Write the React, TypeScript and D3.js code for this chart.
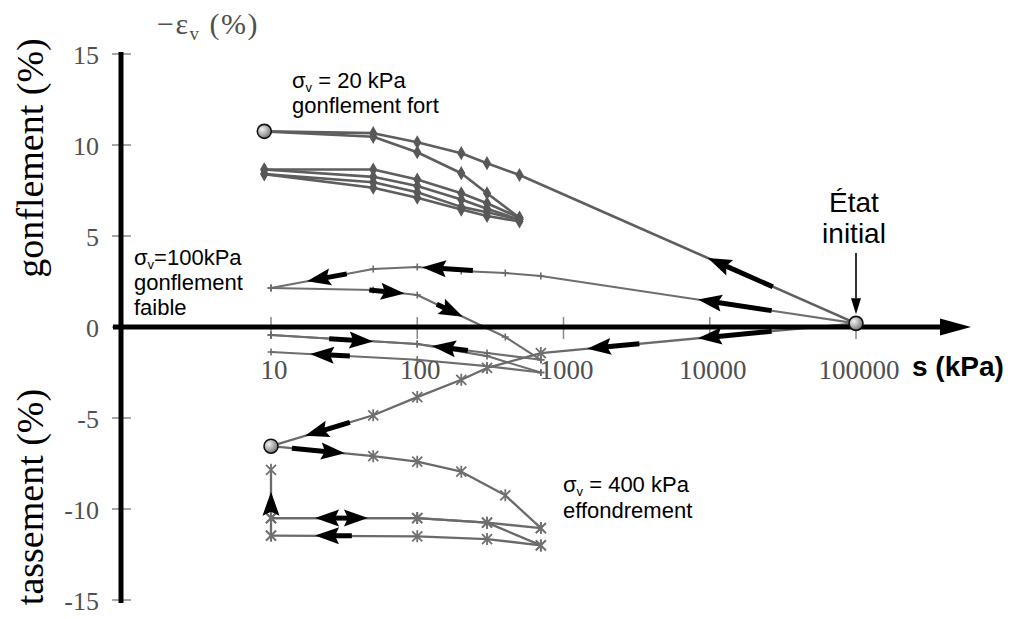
import React, { useRef, useEffect } from "react";
import * as d3 from "d3";

type Pt = [number, number]; // [suction s (kPa), -eps_v (%)]

const W = 1018;
const H = 619;

// tick values
const xTicks = [10, 100, 1000, 10000, 100000];
const xTickLabels = ["10", "100", "1000", "10000", "100000"];
const yTicks = [15, 10, 5, 0, -5, -10, -15];

// initial state
const initialState: Pt = [100000, 0.2];

// sigma_v = 20 kPa : gonflement fort
const s20Wet1: Pt[] = [[100000, 0.2], [500, 8.35], [300, 9.0], [200, 9.55], [100, 10.15], [50, 10.65], [9, 10.75]];
const s20Dry1: Pt[] = [[9, 10.75], [50, 10.45], [100, 9.6], [200, 8.45], [300, 7.35], [500, 6.0]];
const s20Wet2: Pt[] = [[500, 6.0], [300, 6.8], [200, 7.35], [100, 8.1], [50, 8.65], [9, 8.65]];
const s20Dry2: Pt[] = [[9, 8.65], [50, 8.25], [100, 7.75], [200, 7.0], [300, 6.5], [500, 5.9]];
const s20Wet3: Pt[] = [[500, 5.9], [300, 6.3], [200, 6.6], [100, 7.4], [50, 7.95], [9, 8.4]];
const s20Dry3: Pt[] = [[9, 8.4], [50, 7.65], [100, 7.1], [200, 6.45], [300, 6.1], [500, 5.8]];

// sigma_v = 100 kPa : gonflement faible
const s100Wet1: Pt[] = [[100000, 0.2], [700, 2.8], [400, 2.97], [200, 3.08], [100, 3.3], [50, 3.19], [10, 2.14]];
const s100Dry1: Pt[] = [[10, 2.14], [50, 2.03], [100, 1.76], [400, -0.55], [700, -1.8]];
const s100Wet2: Pt[] = [[700, -1.8], [300, -1.43], [100, -0.93], [10, -0.44]];
const s100Dry2: Pt[] = [[10, -0.44], [100, -0.93], [300, -1.6], [700, -2.5]];
const s100Wet3: Pt[] = [[700, -2.5], [300, -2.15], [100, -1.8], [10, -1.37]];

// sigma_v = 400 kPa : effondrement
const s400Wet1: Pt[] = [[100000, 0.2], [700, -1.43], [300, -2.25], [200, -2.9], [100, -3.85], [50, -4.85], [10, -6.55]];
const s400Dry1: Pt[] = [[10, -6.55], [50, -7.1], [100, -7.4], [200, -7.95], [400, -9.25], [700, -11.05]];
const s400Wet2: Pt[] = [[700, -11.05], [300, -10.75], [100, -10.5], [10, -10.5]];
const s400Dry2: Pt[] = [[10, -10.5], [100, -10.5], [300, -10.75], [700, -12.0]];
const s400Wet3: Pt[] = [[700, -12.0], [300, -11.65], [100, -11.5], [10, -11.46]];
const s400Up: Pt[] = [[10, -11.46], [10, -10.5], [10, -7.85]];

// highlighted states (circles)
const circledStates: Pt[] = [[9, 10.75], [10, -6.55], initialState];

// direction arrows along the paths, [from, to]
const pathArrows: [Pt, Pt][] = [
  [[27000, 2.21], [9700, 3.79]],
  [[26500, 0.9], [8300, 1.51]],
  [[26500, -0.24], [8300, -0.62]],
  [[3300, -0.92], [1450, -1.19]],
  [[240, 3.11], [108, 3.28]],
  [[33, 2.92], [17.6, 2.51]],
  [[47, 2.03], [82, 1.84]],
  [[136, 1.25], [205, 0.56]],
  [[25, -0.64], [50, -0.79]],
  [[222, -1.29], [126, -1.04]],
  [[34.6, -1.6], [18.5, -1.48]],
  [[34.6, -5.24], [17.1, -5.98]],
  [[13.9, -6.66], [32, -6.94]],
  [[31, -10.5], [20, -10.5]],
  [[31, -10.5], [46, -10.5]],
  [[35.7, -11.47], [20, -11.46]],
  [[10, -10.25], [10, -9.05]],
];

const groups = [
  { paths: [s20Wet1, s20Dry1, s20Wet2, s20Dry2, s20Wet3, s20Dry3], marker: "diamond", color: "#5e5e5e", width: 2.6 },
  { paths: [s100Wet1, s100Dry1, s100Wet2, s100Dry2, s100Wet3], marker: "plus", color: "#6e6e6e", width: 2.1 },
  { paths: [s400Wet1, s400Dry1, s400Wet2, s400Dry2, s400Wet3, s400Up], marker: "star", color: "#6a6a6a", width: 2.3 },
];

const App: React.FC = () => {
  const ref = useRef<SVGSVGElement>(null);

  useEffect(() => {
    if (!ref.current) return;
    const svg = d3.select(ref.current);
    svg.selectAll("*").remove();

    const x = d3.scaleLog().domain([10, 100000]).range([271, 856]);
    const y = d3.scaleLinear().domain([-15, 15]).range([600, 54]);
    const y0 = y(0);
    const axisX = 121;

    const defs = svg.append("defs");
    const grad = defs
      .append("radialGradient")
      .attr("id", "ball")
      .attr("cx", "35%")
      .attr("cy", "35%")
      .attr("r", "75%");
    grad.append("stop").attr("offset", "0%").attr("stop-color", "#f2f2f2");
    grad.append("stop").attr("offset", "100%").attr("stop-color", "#6a6a6a");

    svg.append("rect").attr("width", W).attr("height", H).attr("fill", "#fff");

    // tick marks
    yTicks.forEach((v) => {
      svg
        .append("line")
        .attr("x1", axisX - 9)
        .attr("x2", axisX + 10)
        .attr("y1", y(v))
        .attr("y2", y(v))
        .attr("stroke", "#8a8a8a")
        .attr("stroke-width", 1.5);
    });
    xTicks.forEach((v) => {
      svg
        .append("line")
        .attr("x1", x(v))
        .attr("x2", x(v))
        .attr("y1", y0 - 10)
        .attr("y2", y0 + 12)
        .attr("stroke", "#8a8a8a")
        .attr("stroke-width", 1.5);
    });

    // curves
    const line = d3
      .line<Pt>()
      .x((d) => x(d[0]))
      .y((d) => y(d[1]));

    groups.forEach((g) => {
      g.paths.forEach((p) => {
        svg
          .append("path")
          .attr("d", line(p))
          .attr("fill", "none")
          .attr("stroke", g.color)
          .attr("stroke-width", g.width)
          .attr("stroke-linejoin", "round");
      });
    });

    // markers
    const diamond = d3.symbol().type(d3.symbolDiamond).size(58);
    groups.forEach((g) => {
      g.paths.forEach((p) => {
        p.filter((d) => d[0] < 100000).forEach((d) => {
          const cx = x(d[0]);
          const cy = y(d[1]);
          if (g.marker === "diamond") {
            svg
              .append("path")
              .attr("d", diamond())
              .attr("transform", `translate(${cx},${cy})`)
              .attr("fill", "#585858");
          } else if (g.marker === "plus") {
            const r = 3.5;
            svg
              .append("path")
              .attr("d", `M${cx - r},${cy}H${cx + r}M${cx},${cy - r}V${cy + r}`)
              .attr("stroke", "#6a6a6a")
              .attr("stroke-width", 1.6);
          } else {
            const r = 5;
            svg
              .append("path")
              .attr(
                "d",
                `M${cx - r},${cy - r}L${cx + r},${cy + r}M${cx - r},${cy + r}L${cx + r},${cy - r}M${cx},${cy - r - 1}V${cy + r + 1}`
              )
              .attr("stroke", "#707070")
              .attr("stroke-width", 1.8);
          }
        });
      });
    });

    // axes
    svg
      .append("line")
      .attr("x1", axisX - 8)
      .attr("x2", 944)
      .attr("y1", y0)
      .attr("y2", y0)
      .attr("stroke", "#000")
      .attr("stroke-width", 5);
    svg
      .append("path")
      .attr("d", `M940,${y0 - 8.5}L971,${y0}L940,${y0 + 8.5}Z`)
      .attr("fill", "#000");
    svg
      .append("line")
      .attr("x1", axisX)
      .attr("x2", axisX)
      .attr("y1", y(15) - 2)
      .attr("y2", y(-15) + 3)
      .attr("stroke", "#000")
      .attr("stroke-width", 5);

    // direction arrows
    const drawArrow = (
      a: [number, number],
      b: [number, number],
      shaft: number,
      headLen: number,
      headHalf: number,
      notch: number
    ) => {
      const dx = b[0] - a[0];
      const dy = b[1] - a[1];
      const len = Math.hypot(dx, dy);
      const ux = dx / len;
      const uy = dy / len;
      const nx = -uy;
      const ny = ux;
      const bx = b[0] - ux * headLen;
      const by = b[1] - uy * headLen;
      if (len > headLen) {
        svg
          .append("line")
          .attr("x1", a[0])
          .attr("y1", a[1])
          .attr("x2", bx + ux * notch)
          .attr("y2", by + uy * notch)
          .attr("stroke", "#000")
          .attr("stroke-width", shaft);
      }
      svg
        .append("path")
        .attr(
          "d",
          `M${b[0]},${b[1]}L${bx + nx * headHalf},${by + ny * headHalf}L${bx + ux * notch},${by + uy * notch}L${bx - nx * headHalf},${by - ny * headHalf}Z`
        )
        .attr("fill", "#000");
    };

    pathArrows.forEach(([p0, p1]) => {
      drawArrow([x(p0[0]), y(p0[1])], [x(p1[0]), y(p1[1])], 5, 24, 8.5, 4);
    });

    // circled states
    circledStates.forEach((d) => {
      svg
        .append("circle")
        .attr("cx", x(d[0]))
        .attr("cy", y(d[1]))
        .attr("r", 7)
        .attr("fill", "url(#ball)")
        .attr("stroke", "#111")
        .attr("stroke-width", 1.6);
    });

    // initial state pointer
    drawArrow([x(initialState[0]), 253], [x(initialState[0]), y(initialState[1]) - 9], 1.6, 16, 5, 0);

    // tick labels
    const serif = "'Liberation Serif', 'Times New Roman', serif";
    const sans = "'Liberation Sans', Arial, sans-serif";
    yTicks.forEach((v) => {
      svg
        .append("text")
        .attr("x", 99)
        .attr("y", y(v) + 1)
        .attr("text-anchor", "end")
        .attr("dominant-baseline", "central")
        .attr("font-family", serif)
        .attr("font-size", 26)
        .attr("fill", "#505050")
        .text(String(v));
    });
    xTicks.forEach((v, i) => {
      svg
        .append("text")
        .attr("x", x(v) + 3)
        .attr("y", 379)
        .attr("text-anchor", "middle")
        .attr("font-family", serif)
        .attr("font-size", 27)
        .attr("fill", "#505050")
        .text(xTickLabels[i]);
    });

    svg
      .append("text")
      .attr("x", 912)
      .attr("y", 376)
      .attr("font-family", sans)
      .attr("font-weight", "bold")
      .attr("font-size", 28)
      .attr("fill", "#000")
      .text("s (kPa)");

    // axis titles
    const title = svg
      .append("text")
      .attr("x", 157)
      .attr("y", 34)
      .attr("font-family", serif)
      .attr("font-size", 30)
      .attr("letter-spacing", 1.5)
      .attr("fill", "#505050");
    title.append("tspan").text("\u2212\u03b5");
    title.append("tspan").attr("font-size", 19).attr("dy", 6).text("v");
    title.append("tspan").attr("dy", -6).text(" (%)");

    svg
      .append("text")
      .attr("transform", "translate(43,158) rotate(-90)")
      .attr("text-anchor", "middle")
      .attr("font-family", serif)
      .attr("font-size", 38)
      .attr("fill", "#000")
      .text("gonflement (%)");
    svg
      .append("text")
      .attr("transform", "translate(43,497) rotate(-90)")
      .attr("text-anchor", "middle")
      .attr("font-family", serif)
      .attr("font-size", 38)
      .attr("fill", "#000")
      .text("tassement (%)");

    // annotations
    const sigmaLabel = (tx: number, ty: number, rest: string) => {
      const t = svg
        .append("text")
        .attr("x", tx)
        .attr("y", ty)
        .attr("font-family", sans)
        .attr("font-size", 22)
        .attr("fill", "#000");
      t.append("tspan").text("\u03c3");
      t.append("tspan").attr("font-size", 13).attr("dy", 4).text("v");
      t.append("tspan").attr("dy", -4).text(rest);
    };
    const plain = (tx: number, ty: number, s: string, size = 22, anchor = "start") => {
      svg
        .append("text")
        .attr("x", tx)
        .attr("y", ty)
        .attr("text-anchor", anchor)
        .attr("font-family", sans)
        .attr("font-size", size)
        .attr("fill", "#000")
        .text(s);
    };

    sigmaLabel(292, 88, " = 20 kPa");
    plain(292, 113, "gonflement fort");

    sigmaLabel(134, 265, "=100kPa");
    plain(134, 290, "gonflement");
    plain(134, 315, "faible");

    sigmaLabel(563, 492, " = 400 kPa");
    plain(563, 518, "effondrement");

    plain(854, 212, "\u00c9tat", 28, "middle");
    plain(854, 243, "initial", 28, "middle");
  }, []);

  return (
    <svg
      ref={ref}
      width={W}
      height={H}
      style={{ position: "absolute", left: 0, top: 0, display: "block" }}
    ></svg>
  );
};

export default App;
